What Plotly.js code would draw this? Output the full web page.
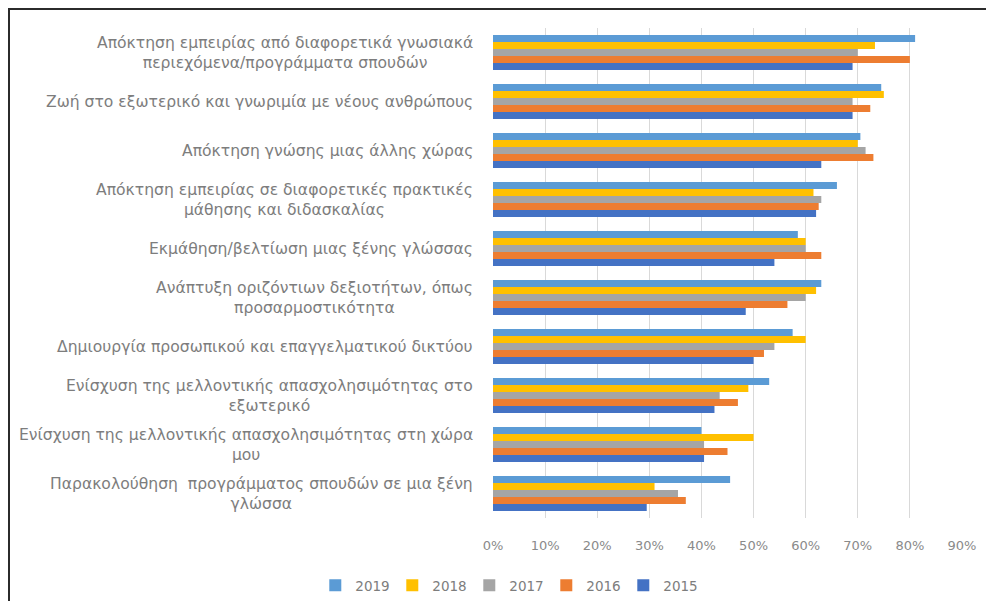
<!DOCTYPE html>
<html>
<head>
<meta charset="utf-8">
<script src="https://cdn.plot.ly/plotly-3.0.1.min.js"></script>
<style>
  html, body { margin: 0; padding: 0; background: #fff; }
  #chart { position: absolute; left: 0; top: 0; width: 986px; height: 601px; }
  #frame { position: absolute; left: 8px; top: 8px; width: 990px; height: 600px;
           border-left: 2px solid #2b2b2b; border-top: 2px solid #2b2b2b; pointer-events: none; }
</style>
</head>
<body>
<div id="chart"></div>
<div id="frame"></div>
<script>
const categories = [
  "Απόκτηση εμπειρίας από διαφορετικά γνωσιακά<br>περιεχόμενα/προγράμματα σπουδών",
  "Ζωή στο εξωτερικό και γνωριμία με νέους ανθρώπους",
  "Απόκτηση γνώσης μιας άλλης χώρας",
  "Απόκτηση εμπειρίας σε διαφορετικές πρακτικές<br>μάθησης και διδασκαλίας",
  "Εκμάθηση/βελτίωση μιας ξένης γλώσσας",
  "Ανάπτυξη οριζόντιων δεξιοτήτων, όπως<br>προσαρμοστικότητα",
  "Δημιουργία προσωπικού και επαγγελματικού δικτύου",
  "Ενίσχυση της μελλοντικής απασχολησιμότητας στο<br>εξωτερικό",
  "Ενίσχυση της μελλοντικής απασχολησιμότητας στη χώρα<br>μου",
  "Παρακολούθηση  προγράμματος σπουδών σε μια ξένη<br>γλώσσα"
];
const seriesNames = ["2019", "2018", "2017", "2016", "2015"];
const v2019 = [0.81, 0.745, 0.705, 0.66, 0.585, 0.63, 0.575, 0.53, 0.40, 0.455];
const v2018 = [0.733, 0.75, 0.70, 0.615, 0.60, 0.62, 0.60, 0.49, 0.50, 0.31];
const v2017 = [0.70, 0.69, 0.715, 0.63, 0.60, 0.60, 0.54, 0.435, 0.405, 0.355];
const v2016 = [0.80, 0.724, 0.73, 0.625, 0.63, 0.565, 0.52, 0.47, 0.45, 0.37];
const v2015 = [0.69, 0.69, 0.63, 0.62, 0.54, 0.485, 0.50, 0.425, 0.405, 0.295];
const xTickVals = [0, 0.1, 0.2, 0.3, 0.4, 0.5, 0.6, 0.7, 0.8, 0.9];
const xTickText = ["0%", "10%", "20%", "30%", "40%", "50%", "60%", "70%", "80%", "90%"];

const colors = ["#5B9BD5", "#FFC000", "#A5A5A5", "#ED7D31", "#4472C4"];
const allValues = [v2019, v2018, v2017, v2016, v2015];

const traces = allValues.map((vals, i) => ({
  type: "bar",
  orientation: "h",
  name: seriesNames[i],
  y: categories,
  x: vals,
  marker: { color: colors[i] },
  hoverinfo: "x+name"
}));

const annotations = categories.map(c => ({
  xref: "paper", yref: "y",
  x: 0, y: c,
  xanchor: "right", yanchor: "middle",
  xshift: -18,
  text: c,
  align: "center",
  showarrow: false,
  font: { family: "DejaVu Sans, sans-serif", size: 15.6, color: "#7d7d7d" }
}));

const layout = {
  width: 986, height: 601,
  margin: { l: 493, r: 24, t: 28, b: 83, pad: 0, autoexpand: false },
  paper_bgcolor: "#ffffff",
  plot_bgcolor: "#ffffff",
  barmode: "group",
  bargap: 0.29,
  bargroupgap: 0,
  showlegend: true,
  legend: {
    orientation: "h",
    xref: "container", yref: "container",
    x: 0.515, xanchor: "center",
    y: 0.0, yanchor: "bottom",
    font: { family: "DejaVu Sans, sans-serif", size: 13.5, color: "#7d7d7d" },
    traceorder: "normal",
    itemwidth: 30,
    entrywidth: 32,
    entrywidthmode: "pixels"
  },
  xaxis: {
    range: [0, 0.9],
    tickvals: xTickVals,
    ticktext: xTickText,
    showgrid: true,
    gridcolor: "#d9d9d9",
    gridwidth: 1,
    zeroline: false,
    showline: false,
    ticks: "",
    ticklabelstandoff: 18,
    tickfont: { family: "DejaVu Sans, sans-serif", size: 13, color: "#8a8a8a" },
    fixedrange: true
  },
  yaxis: {
    type: "category",
    autorange: "reversed",
    showticklabels: false,
    showgrid: false,
    zeroline: false,
    showline: false,
    ticks: "",
    fixedrange: true
  },
  annotations: annotations
};

Plotly.newPlot("chart", traces, layout, { displayModeBar: false, staticPlot: true });
</script>
</body>
</html>
